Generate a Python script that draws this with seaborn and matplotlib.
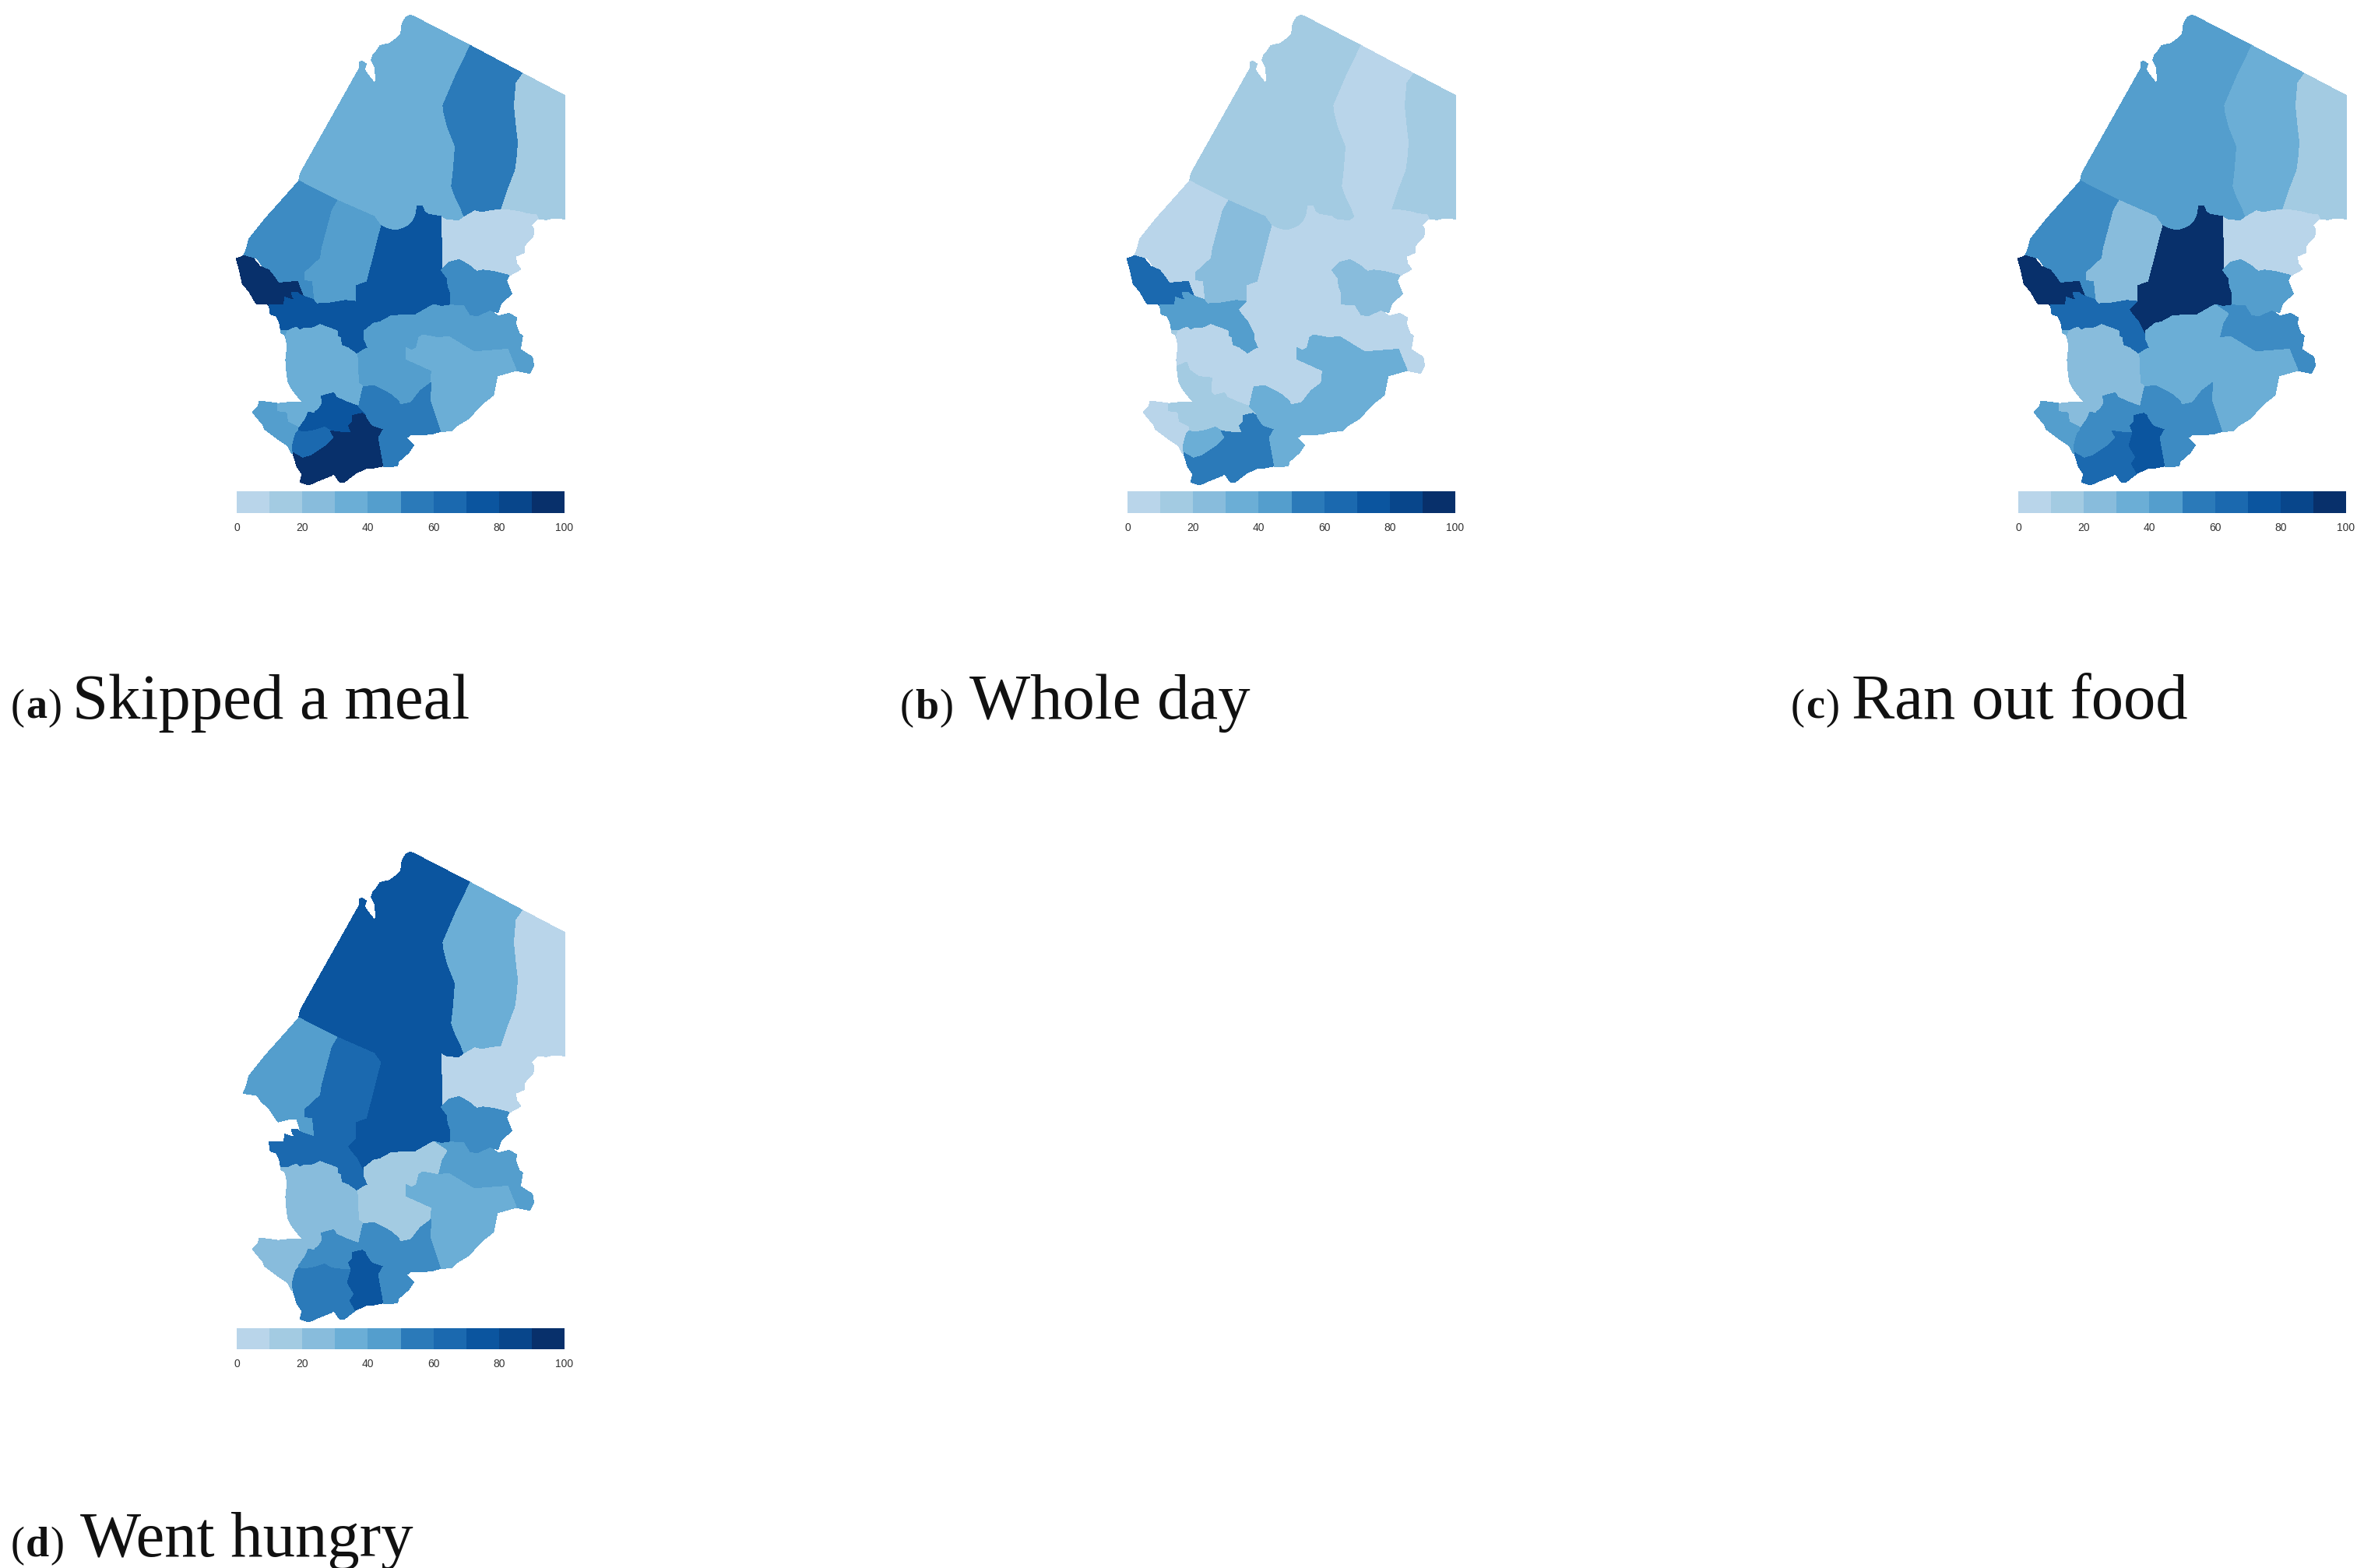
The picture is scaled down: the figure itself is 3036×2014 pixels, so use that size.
import numpy as np
import matplotlib
matplotlib.use("Agg")
import matplotlib.pyplot as plt
import seaborn as sns
from matplotlib.collections import PolyCollection
from matplotlib.colors import LinearSegmentedColormap

# region outlines, in map units
borkou = [(740,62),(755,68),(972,180),(945,240),(915,300),(868,410),(872,440),(885,490),(905,540),(915,565),
          (912,610),(908,660),(901,720),(915,760),(935,800),(952,840),(930,855),(900,852),(880,852),(858,838),
          (810,830),(795,820),(785,797),(768,797),(765,825),(758,845),(750,860),(735,873),(720,882),(700,889),
          (680,893),(650,885),(625,873),(600,838),(456,775),(312,702),(318,672),(545,268),(545,245),(555,240),
          (570,250),(562,270),(575,290),(600,322),(610,315),(605,260),(592,235),(598,215),(612,200),(625,180),
          (660,172),(685,155),(705,135),(710,95),(725,70)]
ennedi_w = [(972,180),(1175,288),(1150,325),(1148,350),(1143,410),(1150,480),(1158,550),(1155,600),(1147,660),
            (1120,730),(1092,812),(1060,815),(1015,823),(990,817),(950,840),(935,800),(915,760),(901,720),
            (908,660),(912,610),(915,565),(905,540),(885,490),(872,440),(868,410),(915,300),(945,240)]
ennedi_e = [(1175,288),(1335,372),(1335,845),(1290,842),(1265,848),(1232,845),(1225,832),(1190,828),(1160,820),
            (1130,815),(1092,812),(1120,730),(1147,660),(1155,600),(1158,550),(1150,480),(1143,410),(1148,350),
            (1150,325)]
wadi_fira = [(858,840),(880,852),(930,855),(950,840),(990,817),(1015,823),(1060,815),(1092,812),(1130,815),
             (1160,820),(1190,828),(1225,832),(1232,845),(1205,870),(1215,885),(1213,915),(1195,930),(1180,950),
             (1180,975),(1145,990),(1150,1020),(1165,1040),(1120,1065),(1060,1050),(1020,1045),(995,1050),
             (965,1025),(930,1005),(890,1015),(862,1045)]
batha = [(625,873),(650,885),(680,893),(700,889),(720,882),(735,873),(750,860),(758,845),(765,825),(768,797),
         (785,797),(795,820),(810,830),(858,838),(862,1045),(885,1075),(887,1105),(897,1130),(897,1180),(860,1185),
         (830,1178),(760,1218),(670,1220),(625,1245),(600,1250),(565,1278),(555,1285),(535,1245),(510,1215),
         (497,1195),(527,1160),(527,1100),(570,1085),(617,900)]
barh_gazel = [(456,775),(600,838),(625,873),(617,900),(570,1085),(527,1100),(527,1165),(490,1162),(430,1172),
              (378,1175),(367,1160),(360,1090),(330,1085),(330,1050),(390,995),(395,960),(435,810)]
kanem = [(312,702),(180,850),(120,925),(110,965),(98,990),(150,997),(170,1025),(195,1045),(232,1100),
         (270,1090),(305,1090),(320,1140),(365,1158),(367,1160),(360,1090),(330,1085),(330,1050),(390,995),
         (395,960),(435,810),(456,775)]
lac = [(72,1000),(100,990),(135,1000),(160,1030),(195,1045),(215,1070),(232,1095),(270,1092),(305,1088),(328,1148),
       (300,1135),(288,1140),(305,1158),(290,1168),(265,1155),(262,1182),(200,1185),(190,1172),(148,1172),
       (120,1125),(95,1095),(85,1050)]
hadjer_lamis = [(198,1180),(255,1178),(258,1150),(282,1158),(300,1162),(288,1145),(285,1132),(305,1132),(320,1143),
                (365,1158),(378,1175),(430,1172),(490,1162),(527,1165),(497,1195),(510,1215),(535,1245),(555,1285),
                (565,1310),(580,1345),(565,1350),(535,1370),(500,1345),(475,1335),(470,1305),(460,1300),(460,1280),
                (440,1272),(392,1255),(370,1267),(330,1270),(315,1278),(300,1265),(270,1278),(243,1278),(238,1245),
                (225,1220),(203,1213)]
ouaddai = [(862,1045),(890,1015),(930,1005),(965,1025),(995,1050),(1020,1045),(1060,1050),(1120,1065),(1110,1085),
           (1130,1135),(1090,1170),(1078,1205),(1050,1203),(1000,1225),(968,1220),(945,1182),(897,1180),(897,1130),
           (887,1105),(885,1075)]
sila = [(830,1178),(860,1185),(897,1180),(945,1182),(968,1220),(1000,1225),(1050,1203),(1080,1222),(1120,1212),
        (1150,1228),(1145,1250),(1160,1290),(1172,1298),(1163,1350),(1210,1380),(1215,1410),(1200,1440),(1148,1430),
        (1115,1350),(985,1360),(890,1302),(845,1305),(860,1245),(880,1212)]
guera = [(535,1370),(565,1350),(580,1345),(565,1310),(565,1278),(600,1250),(625,1245),(670,1220),(760,1218),
         (830,1178),(880,1212),(860,1245),(845,1305),(790,1295),(775,1305),(765,1345),(745,1355),(725,1345),
         (725,1385),(825,1430),(820,1480),(780,1510),(745,1555),(700,1565),(695,1550),(665,1525),(640,1510),
         (600,1490),(560,1495),(540,1480)]
salamat = [(725,1345),(745,1355),(765,1345),(775,1305),(790,1295),(845,1305),(890,1302),(985,1360),(1115,1350),
           (1148,1430),(1075,1450),(1065,1500),(1060,1525),(1015,1560),(965,1615),(915,1645),(900,1662),(855,1665),
           (815,1545),(820,1480),(825,1430),(725,1385)]
ndjamena = [(243,1278),(270,1278),(278,1300),(275,1310),(262,1305),(258,1292),(243,1285)]
chari = [(262,1295),(270,1278),(300,1265),(315,1278),(330,1270),(370,1267),(392,1255),(440,1272),(460,1280),
         (460,1300),(470,1305),(475,1335),(500,1345),(535,1370),(540,1480),(560,1495),(543,1570),(500,1555),
         (455,1535),(445,1518),(400,1530),(393,1515),(395,1460),(345,1455),(310,1430),(300,1400),(265,1415),
         (262,1390),(268,1340)]
mayo_boneye = [(265,1415),(300,1400),(310,1430),(345,1455),(395,1460),(393,1515),(405,1530),(405,1560),(385,1585),
               (370,1590),(335,1555),(320,1545),(300,1520),(285,1500),(270,1470),(265,1430)]
tandjile = [(400,1530),(445,1518),(455,1535),(500,1555),(543,1570),(570,1595),(555,1597),(520,1605),(520,1630),
            (505,1645),(515,1670),(490,1672),(435,1665),(410,1650),(375,1662),(330,1670),(310,1665),(310,1645),
            (332,1615),(345,1585),(367,1592),(385,1585),(402,1560)]
mayo_est = [(225,1560),(270,1555),(335,1555),(370,1590),(345,1585),(332,1615),(307,1650),(267,1630),(262,1595),(225,1590)]
mayo_ouest = [(160,1550),(225,1558),(225,1590),(262,1595),(267,1630),(307,1650),(290,1725),(285,1750),(270,1720),
              (240,1700),(180,1655),(175,1640),(150,1610),(135,1592),(155,1570)]
logone_occ = [(310,1665),(330,1670),(375,1662),(410,1650),(435,1665),(450,1690),(420,1720),(360,1760),(325,1770),
              (290,1750),(288,1720),(300,1675)]
logone_or = [(290,1750),(325,1770),(360,1760),(420,1720),(450,1690),(435,1665),(490,1672),(515,1670),(510,1720),
             (500,1725),(527,1765),(510,1790),(530,1825),(485,1860),(470,1860),(445,1825),(435,1835),(385,1855),
             (350,1870),(318,1860),(325,1830),(305,1800)]
mandoul = [(520,1605),(555,1597),(575,1610),(595,1640),(640,1655),(620,1690),(640,1797),(600,1805),(575,1805),
           (530,1825),(510,1790),(527,1765),(500,1720),(515,1670),(505,1645),(520,1630)]
moyen_chari = [(560,1495),(600,1490),(640,1510),(665,1525),(695,1550),(700,1565),(745,1555),(780,1510),(820,1480),
               (815,1545),(855,1665),(820,1675),(740,1678),(725,1690),(752,1718),(735,1745),(695,1780),(690,1798),
               (640,1800),(620,1690),(640,1655),(595,1640),(575,1610),(570,1595),(543,1570)]

regions = [borkou, ennedi_w, ennedi_e, wadi_fira, batha, barh_gazel, kanem, lac, hadjer_lamis, ouaddai, sila, guera,
           salamat, ndjamena, chari, mayo_boneye, tandjile, mayo_est, mayo_ouest, logone_occ, logone_or, mandoul,
           moyen_chari]

# percent per region, same order as regions
skipped_meal = [35, 55, 15, 5, 75, 45, 50, 95, 75, 50, 45, 45, 35, 45, 35, 35, 75, 35, 45, 65, 95, 95, 55]
whole_day    = [15, 5, 15, 5, 5, 25, 5, 65, 45, 25, 5, 5, 35, 15, 5, 15, 15, 15, 5, 35, 55, 55, 35]
ran_out      = [45, 35, 15, 5, 95, 25, 50, 95, 65, 45, 50, 35, 35, 35, 25, 25, 50, 25, 45, 50, 65, 75, 50]
went_hungry  = [75, 35, 5, 5, 75, 65, 45, np.nan, 65, 50, 45, 15, 35, 25, 25, 25, 50, 25, 25, 55, 55, 75, 50]

panels = [("a", "Skipped a meal", skipped_meal), ("b", "Whole day", whole_day),
          ("c", "Ran out food", ran_out), ("d", "Went hungry", went_hungry)]

color_levels = [0, 5, 15, 25, 35, 45, 50, 55, 65, 75, 85, 95, 100]
color_values = ["#b9d5ea", "#b9d5ea", "#a3cbe2", "#88bcdc", "#6baed6", "#549ecd", "#3d8bc3", "#2b7ab9",
                "#1b69af", "#0b559f", "#08468b", "#08306b", "#08306b"]
bin_centers = [5, 15, 25, 35, 45, 55, 65, 75, 85, 95]
tick_labels = ["0", "20", "40", "60", "80", "100"]

W, H = 3036, 2015
offsets = {"a": (0, 0, 660), "b": (1144, 0, 660), "c": (2288, 0, 660), "d": (0, 1075, 659)}
caption_pos = {"a": (14, 923, 93), "b": (1156, 923, 1245), "c": (2300, 923, 2378), "d": (14, 1999, 103)}

sns.set_theme(style="white")
plt.rcParams["font.family"] = ["Liberation Sans", "DejaVu Sans"]
cmap = LinearSegmentedColormap.from_list("food", [(v / 100, c) for v, c in zip(color_levels, color_values)], N=1001)
cmap.set_bad((1, 1, 1, 0))

fig = plt.figure(figsize=(W / 100, H / 100), dpi=100, facecolor="white")


def px_axes(left, top, right, bottom):
    return fig.add_axes([left / W, 1 - bottom / H, (right - left) / W, (bottom - top) / H])


def caption(letter, label):
    x, y, label_x = caption_pos[letter]
    base = dict(family="Liberation Serif", color="#111111", va="baseline", ha="left")
    renderer = fig.canvas.get_renderer()
    for s, weight in [("(", "normal"), (letter, "bold"), (")", "normal")]:
        t = fig.text(x / W, 1 - y / H, s, fontsize=39, fontweight=weight, **base)
        x = t.get_window_extent(renderer).x1 + 1
    fig.text(label_x / W, 1 - y / H, label, fontsize=59.6, **base)


for letter, label, values in panels:
    dx, dy, strip_bottom = offsets[letter]

    ax = px_axes(280 + dx, dy, 760 + dx, 630 + dy)
    # aliased fills, the reference map is a nearest-neighbour raster
    polys = PolyCollection(regions, array=np.array(values, dtype=float), cmap=cmap,
                           norm=plt.Normalize(0, 100), edgecolors="face", linewidths=0.7,
                           antialiaseds=False)
    ax.add_collection(polys)
    ax.set_xlim(0, 1440)
    ax.set_ylim(1890, 0)
    ax.axis("off")

    cax = px_axes(304 + dx, 632 + dy, 725 + dx, strip_bottom + dy)
    sns.heatmap(np.array([bin_centers]), ax=cax, cmap=cmap, vmin=0, vmax=100, cbar=False,
                xticklabels=False, yticklabels=False)
    cax.set_xticks(np.arange(0, 11, 2))
    cax.set_xticklabels(tick_labels, rotation=0, fontsize=10, color="#333333")
    cax.set_yticks([])
    cax.tick_params(axis="x", length=0, pad=8)

    caption(letter, label)

fig.savefig("out.png", dpi=100, facecolor="white")
